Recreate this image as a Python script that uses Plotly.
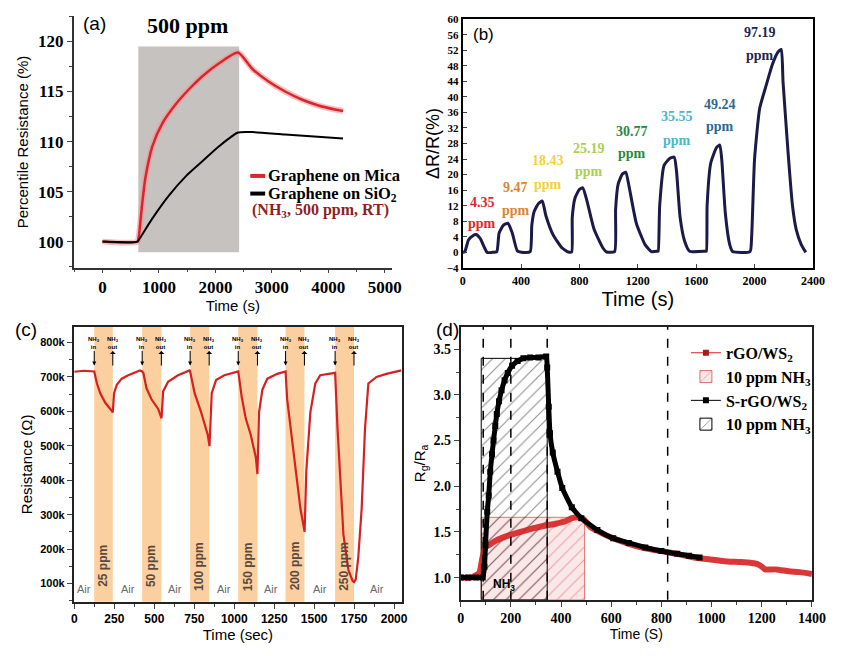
import plotly.graph_objects as go

FW, FH, OFF = 828, 640, 8
SX = 0.987  # observed horizontal scale of the photographed page
SANS = "Liberation Sans, Arial, sans-serif"
SERIF = "Liberation Serif, Times New Roman, serif"

# ---------------- Panel (a) data ----------------
a_mica_t = [0, 620, 647, 706, 765, 882, 1059, 1294, 1529, 1765, 2059, 2400, 2647, 2941, 3235, 3529, 3824, 4118, 4260]
a_mica_v = [100, 100, 100.65, 103.9, 106.5, 109.5, 111.8, 113.7, 115.2, 116.5, 117.8, 118.9, 117.3, 116.0, 115.0, 114.2, 113.6, 113.2, 113.05]
a_sio2_t = [0, 620, 647, 882, 1176, 1471, 1765, 2059, 2400, 2647, 3235, 4260]
a_sio2_v = [100, 100, 100.2, 102.3, 104.6, 106.5, 108.0, 109.5, 110.9, 110.95, 110.7, 110.3]
a_window = [635, 2420]
a_window_y = [98.95, 119.5]
a_xticks = [0, 1000, 2000, 3000, 4000, 5000]
a_yticks = [100, 105, 110, 115, 120]
a_series_names = ["Graphene on Mica", "Graphene on SiO<sub>2</sub>"]
a_series_colors = ["#d8262e", "black"]

# ---------------- Panel (b) data ----------------
b_t = [0, 15, 40, 70, 92, 120, 150, 168, 200, 234,
       250, 280, 310, 340, 375, 420, 463,
       474, 490, 520, 546, 570, 620, 680, 725, 747,
       751, 770, 800, 823, 850, 900, 960, 987, 1041,
       1048, 1065, 1095, 1118, 1140, 1190, 1250, 1293, 1336,
       1340, 1350, 1380, 1420, 1450, 1465, 1490, 1520, 1555, 1664,
       1670, 1675, 1700, 1740, 1762, 1775, 1800, 1830, 1850, 1969,
       1980, 2000, 2035, 2080, 2122, 2160, 2183, 2195, 2231, 2260, 2286, 2320, 2351]
b_v = [0, 0.2, 3.2, 4.3, 4.6, 3.6, 1.2, 0, 0, 0.2,
       5.0, 7.0, 7.5, 5.0, 0.4, 0, 0.2,
       7.0, 10.5, 12.6, 13.2, 9.5, 4.5, 1.2, 0.1, 0.1,
       9.0, 14.0, 16.2, 16.6, 13.5, 6.0, 1.2, 0.1, 0.2,
       11.0, 17.5, 20.2, 20.6, 17.0, 7.5, 2.0, 0.2, 0.3,
       0.3, 12.0, 22.4, 24.2, 24.5, 21.0, 9.0, 3.0, 0.3, 0.3,
       0.3, 12.0, 23.0, 27.0, 27.6, 24.0, 10.0, 2.0, 0.2, 0.2,
       4.0, 24.0, 37.0, 43.0, 48.3, 51.5, 52.2, 44.0, 25.0, 12.0, 5.8, 2.0, 0]
b_conc = ["4.35", "9.47", "18.43", "25.19", "30.77", "35.55", "49.24", "97.19"]
b_conc_x = [135, 365, 583, 867, 1157, 1467, 1762, 2035]
b_conc_y = [12.9, 16.8, 23.7, 26.8, 31.2, 34.9, 38.0, 56.5]
b_ppm_y = [7.5, 10.8, 17.5, 20.8, 25.4, 28.7, 32.4, 50.7]
b_colors = ["#e2262c", "#e0832e", "#f3d236", "#a9cf52", "#1e8c3c", "#4ab6c8", "#2b6a8f", "#1f2650"]

# ---------------- Panel (c) data ----------------
c_t = [0, 60, 124, 130, 141, 161, 193, 224, 240, 248, 265, 296, 337, 410,
       424, 431, 451, 482, 524, 545, 555, 586, 648, 720,
       724, 752, 793, 834, 845, 859, 886, 938, 1021,
       1025, 1046, 1072, 1103, 1135, 1145, 1155, 1176, 1207, 1269,
       1321, 1331, 1352, 1383, 1414, 1440, 1451, 1476, 1507, 1538, 1621,
       1631, 1646, 1663, 1683, 1714, 1740, 1750, 1760, 1776, 1797, 1818, 1839, 1890, 1952, 2045]
c_v = [715, 718, 716, 700, 681, 653, 625, 607, 597, 653, 677, 695, 705, 719,
       716, 712, 667, 635, 607, 580, 658, 686, 705, 719,
       716, 653, 597, 532, 499, 653, 691, 705, 714,
       716, 644, 579, 532, 466, 418, 597, 663, 695, 709,
       716, 635, 550, 429, 317, 250, 429, 597, 681, 705, 711,
       712, 550, 392, 242, 139, 108, 104, 112, 177, 317, 550, 681, 700, 709, 719]
c_band_start = [124, 424, 724, 1025, 1321, 1631]
c_band_end = [240, 544, 843, 1145, 1439, 1749]
c_band_labels = ["25 ppm", "50 ppm", "100 ppm", "150 ppm", "200 ppm", "250 ppm"]
c_air_x = [58, 333, 632, 938, 1232, 1538, 1890]
c_yticks = [100000, 200000, 300000, 400000, 500000, 600000, 700000, 800000]
c_yticktext = ["100k", "200k", "300k", "400k", "500k", "600k", "700k", "800k"]

# ---------------- Panel (d) data ----------------
d_s_t = [0, 30, 60, 88, 95, 99, 106, 112, 118, 125, 131, 138, 144, 153, 163, 175, 188, 205, 227, 250,
         277, 310, 341, 345, 351, 356, 367, 386, 405, 443, 481, 545, 608, 670, 736, 800, 863, 910, 952]
d_s_v = [1.0, 1.0, 1.0, 1.0, 1.12, 1.36, 1.72, 1.9, 2.16, 2.35, 2.5, 2.66, 2.79, 2.93, 3.05, 3.16, 3.24, 3.32, 3.37, 3.40,
         3.41, 3.41, 3.42, 3.30, 2.87, 2.58, 2.37, 2.16, 1.98, 1.77, 1.65, 1.52, 1.43, 1.38, 1.33, 1.29, 1.26, 1.24, 1.22]
d_r_t = [0, 40, 74, 87, 99, 120, 137, 170, 201, 250, 290, 340, 379, 420, 443, 468, 490, 519, 560, 608, 670,
         736, 800, 863, 930, 990, 1050, 1117, 1160, 1181, 1200, 1213, 1257, 1308, 1350, 1400]
d_r_v = [1.0, 1.0, 1.05, 1.22, 1.33, 1.37, 1.40, 1.44, 1.47, 1.51, 1.54, 1.57, 1.59, 1.62, 1.65, 1.66, 1.64, 1.55, 1.49, 1.43, 1.37,
         1.32, 1.29, 1.26, 1.22, 1.20, 1.18, 1.17, 1.16, 1.15, 1.12, 1.09, 1.09, 1.07, 1.06, 1.04]
d_black_window = [82, 345]
d_black_top = 3.40
d_red_window = [82, 494]
d_red_top = 1.66
d_base = 0.757
d_dashed = [90, 200, 345, 825]


def px(a):
    return min(1.0, max(0.0, (a / SX - OFF) / FW))


def py(b):
    return min(1.0, max(0.0, 1 - (b - OFF) / FH))


def dx(a, b):
    return [px(a), px(b)]


def dy(top, bottom):
    return [py(bottom), py(top)]


def ptext(xp, yp, text, font, xanchor="center", yanchor="middle", **kw):
    d = dict(x=px(xp), y=py(yp), xref="paper", yref="paper", text=text, showarrow=False,
             xanchor=xanchor, yanchor=yanchor, font=font)
    d.update(kw)
    return d


fig = go.Figure()

fig.add_trace(go.Scatter(x=a_mica_t, y=a_mica_v, mode="lines",
                         line=dict(color="rgba(240,150,150,0.6)", width=6, shape="spline", smoothing=0.6),
                         showlegend=False, hoverinfo="skip", xaxis="x", yaxis="y"))
fig.add_trace(go.Scatter(x=a_mica_t, y=a_mica_v, mode="lines",
                         line=dict(color=a_series_colors[0], width=2.5, shape="spline", smoothing=0.6),
                         name=a_series_names[0], showlegend=False, xaxis="x", yaxis="y"))
fig.add_trace(go.Scatter(x=a_sio2_t, y=a_sio2_v, mode="lines",
                         line=dict(color=a_series_colors[1], width=2, shape="spline", smoothing=0.6),
                         name=a_series_names[1], showlegend=False, xaxis="x", yaxis="y"))

fig.add_trace(go.Scatter(x=b_t, y=b_v, mode="lines", line=dict(color="#1c1a48", width=3, shape="spline", smoothing=0.5),
                         showlegend=False, xaxis="x2", yaxis="y2"))

fig.add_trace(go.Scatter(x=c_t, y=[v * 1000 for v in c_v], mode="lines", line=dict(color="#d42222", width=2.2),
                         showlegend=False, xaxis="x3", yaxis="y3"))

fig.add_trace(go.Bar(x=[(d_red_window[0] + d_red_window[1]) / 2], width=[d_red_window[1] - d_red_window[0]],
                     base=[d_base], y=[d_red_top - d_base], xaxis="x4", yaxis="y4",
                     marker=dict(color="rgba(230,130,130,0.18)", line=dict(color="rgba(220,60,60,0.7)", width=1),
                                 pattern=dict(shape="/", fgcolor="rgba(200,40,40,0.75)", size=9, solidity=0.12)),
                     name="<b>10 ppm NH<sub>3</sub></b>", legend="legend2", legendrank=2))
fig.add_trace(go.Bar(x=[(d_black_window[0] + d_black_window[1]) / 2], width=[d_black_window[1] - d_black_window[0]],
                     base=[d_base], y=[d_black_top - d_base], xaxis="x4", yaxis="y4",
                     marker=dict(color="rgba(0,0,0,0)", line=dict(color="black", width=1),
                                 pattern=dict(shape="/", fgcolor="#222", bgcolor="rgba(0,0,0,0)", size=9, solidity=0.12)),
                     name="<b>10 ppm NH<sub>3</sub></b>", legend="legend2", legendrank=4))
fig.add_trace(go.Scatter(x=d_r_t, y=d_r_v, mode="lines", line=dict(color="rgba(214,34,34,0.9)", width=6, shape="spline", smoothing=0.5),
                         showlegend=False, xaxis="x4", yaxis="y4"))
fig.add_trace(go.Scatter(x=d_s_t, y=d_s_v, mode="lines+markers", line=dict(color="black", width=5, shape="spline", smoothing=0.4),
                         marker=dict(symbol="square", size=6, color="black"),
                         showlegend=False, xaxis="x4", yaxis="y4"))
fig.add_trace(go.Scatter(x=[None], y=[None], mode="lines+markers", line=dict(color="#d42222", width=1),
                         marker=dict(symbol="square", size=6, color="#b01818"),
                         name="<b>rGO/WS<sub>2</sub></b>", xaxis="x4", yaxis="y4", legend="legend2", legendrank=1))
fig.add_trace(go.Scatter(x=[None], y=[None], mode="lines+markers", line=dict(color="black", width=1),
                         marker=dict(symbol="square", size=6, color="black"),
                         name="<b>S-rGO/WS<sub>2</sub></b>", xaxis="x4", yaxis="y4", legend="legend2", legendrank=3))

shapes = []
shapes.append(dict(type="rect", xref="x", yref="y", x0=a_window[0], x1=a_window[1], y0=a_window_y[0], y1=a_window_y[1],
                   fillcolor="#c6c2c0", line=dict(width=0), layer="below"))
for i, col in enumerate(a_series_colors):
    yy = py(173 + 18 * i)
    shapes.append(dict(type="line", xref="paper", yref="paper", x0=px(249), x1=px(264), y0=yy, y1=yy,
                       line=dict(color=col, width=4)))
for s, e in zip(c_band_start, c_band_end):
    shapes.append(dict(type="rect", xref="x3", yref="y3 domain", x0=s, x1=e, y0=0, y1=1,
                       fillcolor="#fbcf9f", line=dict(width=0), layer="below"))
for xv in d_dashed:
    shapes.append(dict(type="line", xref="x4", yref="y4 domain", x0=xv, x1=xv, y0=0, y1=1,
                       line=dict(color="black", width=1.5, dash="dash")))

ann = []
ann.append(ptext(92, 18, "(a)", dict(family=SANS, size=19, color="black")))
ann.append(ptext(186, 20, "<b>500 ppm</b>", dict(family=SERIF, size=22, color="black")))
for i, nm in enumerate(a_series_names):
    ann.append(ptext(265, 173 + 18 * i, "<b>" + nm + "</b>", dict(family=SERIF, size=16.5, color="black"), xanchor="left"))
ann.append(ptext(320, 208, "<b>(NH<sub>3</sub>, 500 ppm, RT)</b>", dict(family=SERIF, size=16, color="#8f1f24")))
ann.append(dict(x=60, y=56, xref="x2", yref="y2", text="(b)", showarrow=False, xanchor="left", yanchor="middle",
                font=dict(family=SANS, size=17, color="black")))
for cx, cy, pyv, txt, col in zip(b_conc_x, b_conc_y, b_ppm_y, b_conc, b_colors):
    ann.append(dict(x=cx, y=cy, xref="x2", yref="y2", text="<b>" + txt + "</b>", showarrow=False,
                    font=dict(family=SERIF, size=14, color=col)))
    ann.append(dict(x=cx, y=pyv, xref="x2", yref="y2", text="<b>ppm</b>", showarrow=False,
                    font=dict(family=SERIF, size=14, color=col)))
ann.append(ptext(23, 330, "(c)", dict(family=SANS, size=19, color="black")))
for s, e, lab in zip(c_band_start, c_band_end, c_band_labels):
    ann.append(dict(x=s, y=733000, xref="x3", yref="y3", ax=s, ay=800000, axref="x3", ayref="y3",
                    text="<b>NH<sub>3</sub><br>in</b>", showarrow=True, arrowhead=2, arrowsize=0.8, arrowwidth=1,
                    arrowcolor="black", font=dict(family=SANS, size=6, color="black")))
    ann.append(dict(x=e, y=733000, xref="x3", yref="y3", ax=e, ay=800000, axref="x3", ayref="y3",
                    text="<b>NH<sub>3</sub><br>out</b>", showarrow=True, arrowhead=2, arrowside="start", arrowsize=0.8,
                    arrowwidth=1, arrowcolor="black", font=dict(family=SANS, size=6, color="black")))
    ann.append(dict(x=(s + e) / 2, y=150000, xref="x3", yref="y3", text="<b>" + lab + "</b>", textangle=-90,
                    showarrow=False, font=dict(family=SANS, size=12, color="#5a4a3e")))
for axv in c_air_x:
    ann.append(dict(x=axv, y=84000, xref="x3", yref="y3", text="Air", showarrow=False,
                    font=dict(family=SANS, size=11, color="#6a6a6a")))
ann.append(ptext(448, 330, "(d)", dict(family=SANS, size=19, color="black")))
ann.append(dict(x=173, y=0.92, xref="x4", yref="y4", text="<b>NH<sub>3</sub></b>", showarrow=False,
                font=dict(family=SANS, size=12, color="black")))

tick_serif = dict(family=SERIF, size=17, color="black", weight="bold")
common = dict(showgrid=False, zeroline=False, ticklabeloverflow="allow")

fig.update_layout(
    width=FW, height=FH, margin=dict(l=0, r=0, t=0, b=0),
    paper_bgcolor="white", plot_bgcolor="rgba(0,0,0,0)",
    barmode="overlay", shapes=shapes, annotations=ann,
    xaxis=dict(domain=dx(71, 392), range=[-510, 5130], anchor="y", tickvals=a_xticks, showline=True, linecolor="#333",
               linewidth=1.5, ticks="outside", ticklen=3, tickfont=tick_serif,
               minor=dict(dtick=500, ticks="outside", ticklen=2),
               title=dict(text="Time (s)", font=dict(family=SANS, size=15, color="black"), standoff=0), **common),
    yaxis=dict(domain=dy(10, 267), range=[97.35, 122.55], anchor="x", tickvals=a_yticks, showline=True, linecolor="#333",
               linewidth=1.5, ticks="outside", ticklen=5, tickfont=tick_serif,
               minor=dict(dtick=2.5, ticks="outside", ticklen=3),
               title=dict(text="Percentile Resistance (%)", font=dict(family=SANS, size=15, color="black"), standoff=6),
               **common),
    xaxis2=dict(domain=dx(463, 816), range=[0, 2400], anchor="y2", dtick=400, showline=True, mirror=True, linecolor="black",
                linewidth=2, ticks="inside", ticklen=4, tickfont=dict(family=SERIF, size=12, color="black", weight="bold"),
                title=dict(text="Time (s)", font=dict(family=SANS, size=20, color="black"), standoff=4), **common),
    yaxis2=dict(domain=dy(13, 267), range=[-4.05, 60.05], anchor="x2", dtick=4, showline=True, mirror=True, linecolor="black",
                linewidth=2, ticks="inside", ticklen=4, tickfont=dict(family=SERIF, size=11, color="black", weight="bold"),
                title=dict(text="ΔR/R(%)", font=dict(family=SANS, size=18, color="black"), standoff=2), **common),
    xaxis3=dict(domain=dx(71, 402), range=[-5, 2050], anchor="y3", dtick=250, showline=True, mirror=True, linecolor="#222",
                linewidth=1.5, ticks="outside", ticklen=5, tickfont=dict(family=SANS, size=12, color="black", weight="bold"),
                minor=dict(dtick=125, ticks="outside", ticklen=3),
                title=dict(text="Time (sec)", font=dict(family=SANS, size=15, color="black"), standoff=2), **common),
    yaxis3=dict(domain=dy(327, 607), range=[47000, 845000], anchor="x3", tickvals=c_yticks, ticktext=c_yticktext,
                showline=True, mirror=True, linecolor="#222", linewidth=1.5, ticks="outside", ticklen=5,
                tickfont=dict(family=SANS, size=11, color="black", weight="bold"),
                minor=dict(dtick=50000, ticks="outside", ticklen=3),
                title=dict(text="Resistance (Ω)", font=dict(family=SANS, size=15, color="black"), standoff=4), **common),
    xaxis4=dict(domain=dx(461, 815), range=[0, 1400], anchor="y4", dtick=200, showline=True, mirror=True, linecolor="#222",
                linewidth=1.5, ticks="outside", ticklen=5, tickfont=dict(family=SERIF, size=14, color="black", weight="bold"),
                minor=dict(dtick=100, ticks="outside", ticklen=3),
                title=dict(text="Time (S)", font=dict(family=SANS, size=14, color="black"), standoff=1), **common),
    yaxis4=dict(domain=dy(327, 605), range=[0.757, 3.743], anchor="x4", dtick=0.5, tickformat=".1f", showline=True,
                mirror=True, linecolor="#222", linewidth=1.5, ticks="outside", ticklen=5,
                tickfont=dict(family=SERIF, size=14, color="black", weight="bold"),
                minor=dict(dtick=0.25, ticks="outside", ticklen=3),
                title=dict(text="R<sub>g</sub>/R<sub>a</sub>", font=dict(family=SANS, size=15, color="black"), standoff=4),
                **common),
    legend2=dict(x=px(688), y=py(336), xanchor="left", yanchor="top", bgcolor="rgba(0,0,0,0)",
                 font=dict(family=SERIF, size=16, color="black"), itemwidth=30, traceorder="normal"),
)

fig.write_html("out.html")
